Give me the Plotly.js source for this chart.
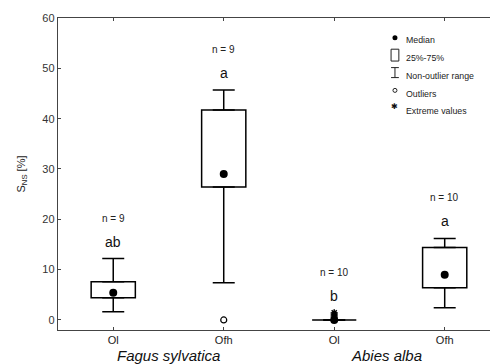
<!DOCTYPE html>
<html>
<head>
<meta charset="utf-8">
<script src="https://cdn.plot.ly/plotly-3.0.1.min.js"></script>
<style>html,body{margin:0;padding:0;background:#fff;}#chart{width:490px;height:364px;}</style>
</head>
<body>
<div id="chart"></div>
<script>
// ---- data ----
const layerLabels = ["Ol", "Ofh", "Ol", "Ofh"];
const speciesLabels = ["Fagus sylvatica", "Abies alba"];
const whiskerLow = [1.65, 7.4, 0.0, 2.4];
const q1 = [4.4, 26.4, 0.0, 6.4];
const medians = [5.4, 29.0, 0.0, 9.0];
const q3 = [7.6, 41.7, 0.0, 14.4];
const whiskerHigh = [12.2, 45.7, 0.0, 16.2];
const outlierGroup = [1];
const outlierValues = [0.0];
const extremeGroup = [2, 2, 2];
const extremeValues = [0.6, 1.0, 1.4];
const nLabels = ["n = 9", "n = 9", "n = 10", "n = 10"];
const letters = ["ab", "a", "b", "a"];
const legendLabels = ["Median", "25%-75%", "Non-outlier range", "Outliers", "Extreme values"];

const pos = layerLabels.map((_, i) => i);
const FONT = "Liberation Sans, Arial, sans-serif";

const traces = [];
// boxes (25%-75%)
traces.push({
  type: "bar", x: pos, base: q1, y: q3.map((v, i) => v - q1[i]),
  width: 0.4, marker: {color: "#fff", line: {color: "#000", width: 1.5}},
  hoverinfo: "skip", showlegend: false
});
// upper whiskers
traces.push({
  type: "scatter", mode: "markers", x: pos, y: q3,
  marker: {size: 1, color: "rgba(0,0,0,0)"},
  error_y: {type: "data", symmetric: false, array: whiskerHigh.map((v, i) => v - q3[i]),
            arrayminus: pos.map(() => 0), color: "#000", thickness: 1.5, width: 11},
  hoverinfo: "skip", showlegend: false
});
// lower whiskers
traces.push({
  type: "scatter", mode: "markers", x: pos, y: q1,
  marker: {size: 1, color: "rgba(0,0,0,0)"},
  error_y: {type: "data", symmetric: false, array: pos.map(() => 0),
            arrayminus: q1.map((v, i) => v - whiskerLow[i]), color: "#000", thickness: 1.5, width: 11},
  hoverinfo: "skip", showlegend: false
});
// outliers
traces.push({
  type: "scatter", mode: "markers", x: outlierGroup, y: outlierValues,
  marker: {symbol: "circle-open", size: 6, color: "#000", line: {width: 1.2}},
  showlegend: false
});
// extremes
traces.push({
  type: "scatter", mode: "markers", x: extremeGroup, y: extremeValues,
  marker: {symbol: "asterisk-open", size: 6, color: "#000", line: {width: 1.5, color: "#000"}},
  showlegend: false
});
// medians
traces.push({
  type: "scatter", mode: "markers", x: pos, y: medians,
  marker: {symbol: "circle", size: 8, color: "#000"},
  showlegend: false
});

const annotations = [];
const tops = pos.map(i => {
  let t = whiskerHigh[i];
  extremeGroup.forEach((g, k) => { if (g === i) t = Math.max(t, extremeValues[k]); });
  return t;
});
pos.forEach(i => {
  annotations.push({x: i, y: tops[i], xref: "x", yref: "y", text: letters[i], showarrow: false,
    yanchor: "bottom", yshift: 7, font: {family: FONT, size: 14, color: "#111"}});
  annotations.push({x: i, y: tops[i], xref: "x", yref: "y", text: nLabels[i], showarrow: false,
    yanchor: "bottom", yshift: 33, font: {family: FONT, size: 10, color: "#222"}});
});
// species labels
const speciesX = [0.5, 2.47];
speciesLabels.forEach((s, k) => {
  annotations.push({x: speciesX[k], y: -0.083, xref: "x", yref: "paper", text: "<i>" + s + "</i>",
    showarrow: false, yanchor: "middle", font: {family: FONT, size: 15, color: "#111"}});
});

// custom key
const keyX = 0.780, keyTextX = 0.801;
const keyY = [0.930, 0.872, 0.814, 0.757, 0.701];
legendLabels.forEach((t, k) => {
  annotations.push({x: keyTextX, y: keyY[k], xref: "paper", yref: "paper", text: t, showarrow: false,
    xanchor: "left", yanchor: "middle", font: {family: FONT, size: 8.8, color: "#222"}});
});
annotations.push({x: keyX, y: 0.716, xref: "paper", yref: "paper", text: "✱", showarrow: false,
  xanchor: "center", yanchor: "middle", font: {family: "DejaVu Sans", size: 8, color: "#111"}});

const shapes = [
  {type: "circle", xref: "paper", yref: "paper", xsizemode: "pixel", ysizemode: "pixel",
   xanchor: keyX, yanchor: 0.937, x0: -2.5, x1: 2.5, y0: -2.5, y1: 2.5,
   fillcolor: "#000", line: {width: 0}},
  {type: "rect", xref: "paper", yref: "paper", x0: 0.771, x1: 0.789, y0: 0.862, y1: 0.900,
   line: {color: "#222", width: 1}, fillcolor: "rgba(0,0,0,0)"},
  {type: "line", xref: "paper", yref: "paper", x0: 0.771, x1: 0.789, y0: 0.841, y1: 0.841, line: {color: "#222", width: 1}},
  {type: "line", xref: "paper", yref: "paper", x0: 0.780, x1: 0.780, y0: 0.809, y1: 0.841, line: {color: "#222", width: 1}},
  {type: "line", xref: "paper", yref: "paper", x0: 0.771, x1: 0.789, y0: 0.809, y1: 0.809, line: {color: "#222", width: 1}},
  {type: "circle", xref: "paper", yref: "paper", xsizemode: "pixel", ysizemode: "pixel",
   xanchor: keyX, yanchor: 0.768, x0: -2, x1: 2, y0: -2, y1: 2,
   fillcolor: "rgba(0,0,0,0)", line: {color: "#222", width: 1}}
];

const layout = {
  width: 490, height: 364,
  margin: {l: 58, r: 0, t: 18, b: 34},
  paper_bgcolor: "#fff", plot_bgcolor: "#fff",
  font: {family: FONT, color: "#222"},
  showlegend: false,
  xaxis: {
    range: [-0.5, 3.41], tickvals: pos, ticktext: layerLabels,
    showgrid: false, zeroline: false, showline: true, linecolor: "#444", linewidth: 1.2,
    mirror: "ticks", ticks: "inside", ticklen: 3, tickcolor: "#444",
    tickfont: {size: 11, color: "#222"}
  },
  yaxis: {
    range: [-2, 60], tickvals: [0, 10, 20, 30, 40, 50, 60],
    showgrid: false, zeroline: false, showline: true, linecolor: "#444", linewidth: 1.2,
    ticks: "inside", ticklen: 3, tickcolor: "#444",
    tickfont: {size: 11, color: "#333"},
    title: {text: "S<sub>NS</sub> [%]", font: {size: 11, color: "#222"}, standoff: 14}
  },
  annotations: annotations,
  shapes: shapes
};

Plotly.newPlot("chart", traces, layout, {staticPlot: true});
</script>
</body>
</html>
